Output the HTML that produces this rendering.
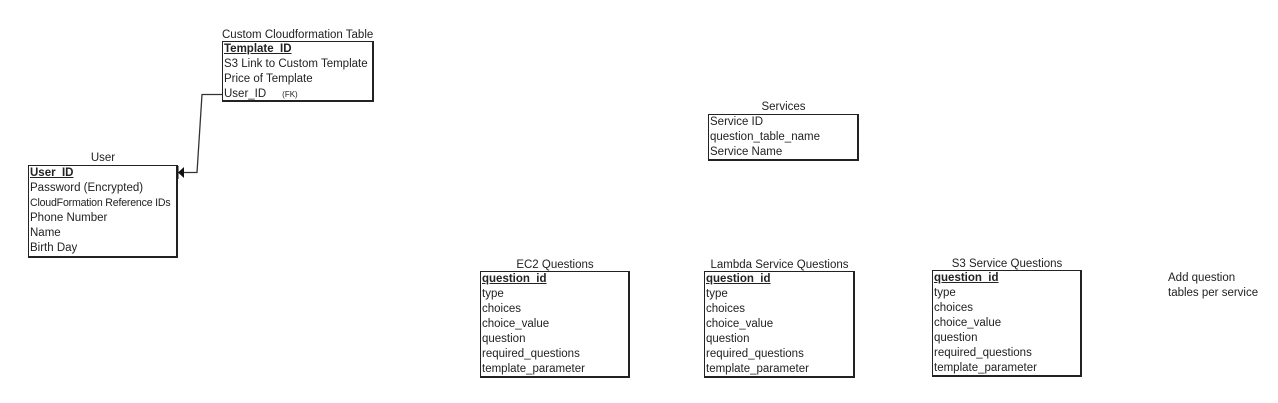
<!DOCTYPE html>
<html><head><meta charset="utf-8"><style>
body{margin:0;width:1278px;height:403px;background:#fff;position:relative;overflow:hidden;font-family:"Liberation Sans",Arial,sans-serif;font-size:11.5px;color:#222}
.t{position:absolute;text-align:center;white-space:nowrap;line-height:14px}
.b{position:absolute;border:1px solid #222;border-right:2px solid #222;border-bottom:2px solid #222;box-sizing:border-box;padding-top:0px}
.b div{line-height:15px;padding-left:1px;white-space:nowrap}
.k{font-weight:bold;text-decoration:underline}
</style></head><body>
<div class="t" style="left:222px;width:151px;top:28px">Custom Cloudformation Table</div>
<div class="b" style="left:222px;top:41px;width:152px;height:61px">
<div class="k">Template_ID</div><div>S3 Link to Custom Template</div><div>Price of Template</div><div>User_ID &nbsp;&nbsp;&nbsp;&nbsp;<span style="font-size:8px">(FK)</span></div></div>

<div class="t" style="left:28px;width:150px;top:151px">User</div>
<div class="b" style="left:28px;top:165px;width:150px;height:93px">
<div class="k">User_ID</div><div>Password (Encrypted)</div><div style="font-size:10.6px;letter-spacing:-0.2px">CloudFormation Reference IDs</div><div>Phone Number</div><div>Name</div><div>Birth Day</div></div>

<svg style="position:absolute;left:0;top:0" width="1278" height="403">
<polyline points="222,94.5 202,94.5 197,172.5 182,172.5" fill="none" stroke="#333" stroke-width="1.3"/>
<polygon points="178,172.5 184,167 184,178" fill="#111"/>
<line x1="178" y1="166" x2="178" y2="179" stroke="#111" stroke-width="1"/>
</svg>

<div class="t" style="left:708px;width:151px;top:100px">Services</div>
<div class="b" style="left:708px;top:114px;width:151px;height:47px">
<div>Service ID</div><div>question_table_name</div><div>Service Name</div></div>

<div class="t" style="left:480px;width:150px;top:258px">EC2 Questions</div>
<div class="b" style="left:480px;top:271px;width:150px;height:107px">
<div class="k">question_id</div><div>type</div><div>choices</div><div>choice_value</div><div>question</div><div>required_questions</div><div>template_parameter</div></div>

<div class="t" style="left:704px;width:151px;top:258px">Lambda Service Questions</div>
<div class="b" style="left:704px;top:271px;width:151px;height:107px">
<div class="k">question_id</div><div>type</div><div>choices</div><div>choice_value</div><div>question</div><div>required_questions</div><div>template_parameter</div></div>

<div class="t" style="left:932px;width:150px;top:257px">S3 Service Questions</div>
<div class="b" style="left:932px;top:270px;width:150px;height:107px">
<div class="k">question_id</div><div>type</div><div>choices</div><div>choice_value</div><div>question</div><div>required_questions</div><div>template_parameter</div></div>

<div class="t" style="left:1168px;top:271px;text-align:left;line-height:15px">Add question<br>tables per service</div>
</body></html>
